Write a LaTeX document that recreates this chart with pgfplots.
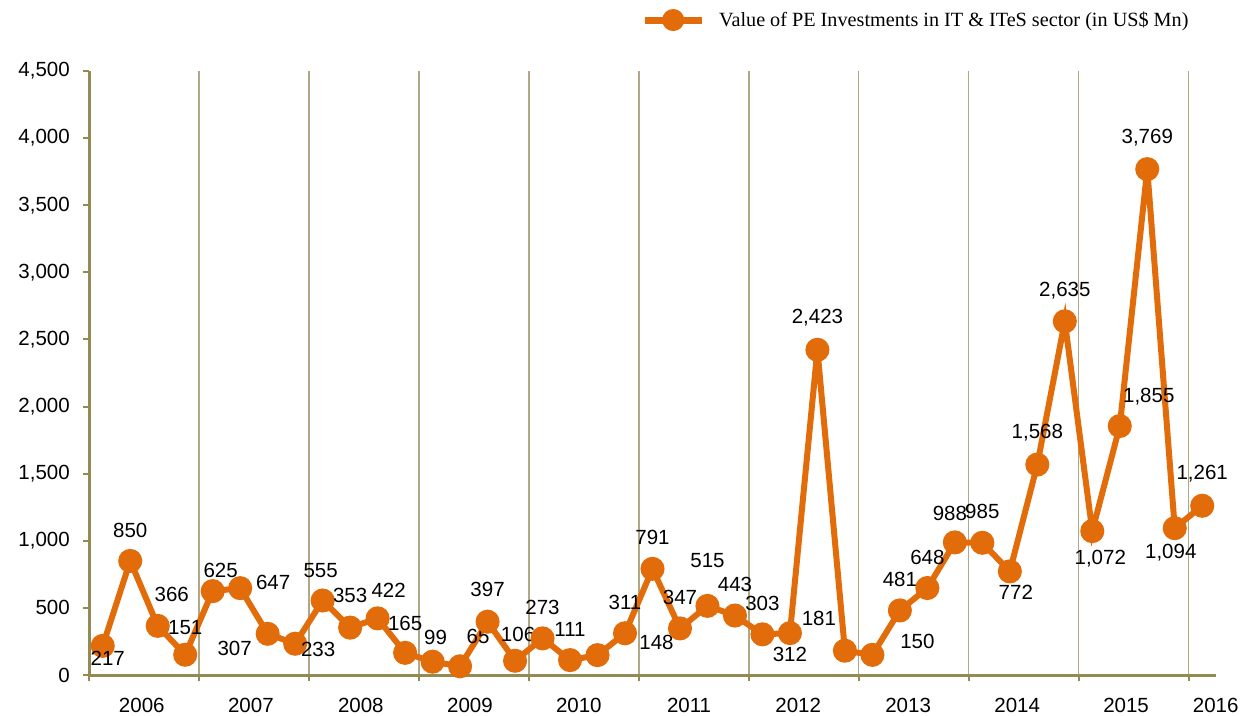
\documentclass[border=0pt]{standalone}
\usepackage{fontspec}
\setmainfont{Liberation Sans}
\newfontfamily\legfont{Liberation Serif}
\usepackage{pgfplots}
\usepackage{pgfplotstable}
\pgfplotsset{compat=1.18}

\definecolor{peorange}{RGB}{227,108,10}
\definecolor{axtan}{RGB}{148,138,84}
\definecolor{gridtan}{RGB}{176,167,135}

% quarter index, value, label offset (right, up) in px
\pgfplotstableread{
q  y    dx  dy
0  217   5  -12
1  850   0   30
2  366  14   31
3  151   0   27
4  625   8   21
5  647  33    6
6  307 -33  -15
7  233  23   -6
8  555  -2   30
9  353   0   32
10 422  11   28
11 165   0   29
12 99    3   24
13 65   18   30
14 397   0   32
15 106   3   26
16 273   0   31
17 111   0   31
18 148  59   13
19 311   0   31
20 791   0   31
21 347   0   31
22 515   0   45
23 443   0   31
24 303   0   31
25 312   0  -21
26 2423  0   32
27 181 -26   32
28 150  45   13
29 481   0   31
30 648   0   31
31 988  -5   29
32 985   0   31
33 772   6  -21
34 1568  0   32
35 2635  0   31
36 1072  8  -28
37 1855 29   29
38 3769  0   31
39 1094 -4  -24
40 1261  0   32
}\petable

\begin{document}
\begin{tikzpicture}
\path[use as bounding box] (0,0) rectangle (1242pt,715pt);
\begin{axis}[
  at={(89pt,40pt)}, anchor=south west,
  scale only axis,
  width=1127pt, height=604pt,
  xmin=-0.5, xmax=40.5,
  ymin=0, ymax=4500,
  ytick={0,500,...,4500},
  scaled y ticks=false,
  xtick={-0.5,3.5,7.5,11.5,15.5,19.5,23.5,27.5,31.5,35.5,39.5},
  xticklabels={},
  extra x ticks={1.42,5.39,9.39,13.36,17.32,21.33,25.3,29.3,33.27,37.23,40.49},
  extra x tick labels={2006,2007,2008,2009,2010,2011,2012,2013,2014,2015,2016},
  extra x tick style={grid=none, major tick length=0pt,
    xticklabel style={anchor=north, inner sep=0pt, yshift=-23pt}},
  xmajorgrids,
  grid style={gridtan, line width=1.6pt},
  axis x line=bottom, axis y line=left,
  axis line style={axtan, line width=3pt, -},
  tick style={axtan, line width=2pt},
  tick align=outside,
  major tick length=6pt,
  /pgf/number format/fixed,
  /pgf/number format/1000 sep={,},
  /pgf/number format/assume math mode=true,
  tick label style={font=\fontsize{20.5}{24}\selectfont, text=black},
  yticklabel style={anchor=east, inner sep=0pt, xshift=-13pt},
  clip=false,
  legend style={at={(rel axis cs:0.4898,1.0844)}, anchor=west, draw=none,
    fill=none, inner sep=0pt, column sep=14pt,
    nodes={inner sep=0pt}, font=\legfont\fontsize{20.2}{24}\selectfont},
  legend image code/.code={
    \draw[peorange, line width=7pt] (0pt,0pt) -- (57pt,0pt);
    \fill[peorange] (28.5pt,0pt) circle (8pt);
  },
]
\addplot[peorange, line width=6pt, mark=*, mark size=9pt,
  mark options={fill=peorange, draw=none},
  point meta=y,
  visualization depends on={\thisrow{dx} \as \dx},
  visualization depends on={\thisrow{dy} \as \dy},
  nodes near coords={\pgfmathprintnumber[fixed, precision=0, 1000 sep={,}, assume math mode=true]{\pgfplotspointmeta}},
  nodes near coords align={center},
  every node near coord/.append style={text=black, inner sep=0pt,
    xshift=\dx pt, yshift=\dy pt, font=\fontsize{20.5}{24}\selectfont},
] table[x=q, y=y] {\petable};
\addlegendentry{Value of PE Investments in IT \& ITeS sector (in US\$ Mn)}
\end{axis}
\end{tikzpicture}
\end{document}
